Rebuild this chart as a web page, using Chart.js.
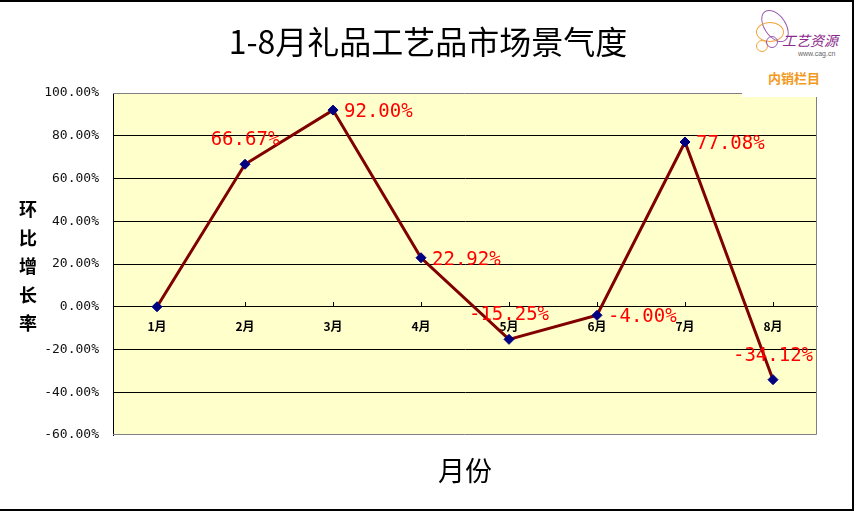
<!DOCTYPE html>
<html>
<head>
  <meta charset="utf-8">
  <title>1-8月礼品工艺品市场景气度</title>
  <script src="https://cdn.jsdelivr.net/npm/chart.js"></script>
  <style>
    body {
      margin: 0;
      background: #fff;
      font-family: "Noto Sans CJK SC", sans-serif;
    }

    .frame {
      position: relative;
      width: 856px;
      height: 511px;
      overflow: hidden;
    }

    .chart-box {
      position: absolute;
      left: 0;
      top: 0;
      width: 856px;
      height: 511px;
    }

    .title {
      position: absolute;
      left: 0;
      width: 856px;
      top: 19px;
      text-align: center;
      font-size: 32px;
      line-height: 42px;
      color: #000;
    }

    .x-title {
      position: absolute;
      left: 415px;
      width: 100px;
      top: 452px;
      text-align: center;
      font-size: 27px;
      line-height: 36px;
    }

    .y-title {
      position: absolute;
      left: 16px;
      top: 194px;
      width: 24px;
      font-size: 18px;
      font-weight: bold;
      line-height: 28.5px;
      text-align: center;
    }

    .logo {
      position: absolute;
      left: 742px;
      top: 2px;
      width: 110px;
      height: 95px;
      background: #fff;
    }

    .logo .name {
      position: absolute;
      left: 40px;
      top: 28px;
      color: #8a2a8a;
      font-size: 14px;
      font-style: italic;
    }

    .logo .url {
      position: absolute;
      left: 56px;
      top: 48px;
      color: #666;
      font-size: 7px;
      font-family: "Liberation Sans", sans-serif;
    }

    .logo .col {
      position: absolute;
      left: 26px;
      top: 66px;
      color: #f29a1c;
      font-size: 13px;
      font-weight: bold;
    }

    .logo .ring {
      position: absolute;
      border-radius: 50%;
    }

    .border {
      position: absolute;
      left: 0;
      top: 0;
      width: 852px;
      height: 507px;
      border-top: 2px solid #000;
      border-right: 2px solid #000;
      border-bottom: 2px solid #000;
      pointer-events: none;
    }
  </style>
</head>
<body>
  <div class="frame">
    <div class="chart-box">
      <canvas id="chart"></canvas>
    </div>
    <div class="title">1-8月礼品工艺品市场景气度</div>
    <div class="y-title">环<br>比<br>增<br>长<br>率</div>
    <div class="x-title">月份</div>
    <div class="logo">
      <div class="ring" style="left:22px;top:6px;width:20px;height:34px;border:1px solid #9a5bb0;transform:rotate(-35deg);"></div>
      <div class="ring" style="left:14px;top:20px;width:26px;height:18px;border:1px solid #f2a640;"></div>
      <div class="ring" style="left:14px;top:38px;width:10px;height:10px;border:1px solid #f2a640;"></div>
      <div class="ring" style="left:24px;top:34px;width:10px;height:10px;border:1px solid #9a5bb0;"></div>
      <div class="name">工艺资源</div>
      <div class="url">www.cag.cn</div>
      <div class="col">内销栏目</div>
    </div>
    <div class="border"></div>
  </div>

  <script>
    var months = ['1月', '2月', '3月', '4月', '5月', '6月', '7月', '8月'];
    var growth = [0, 66.67, 92.00, 22.92, -15.25, -4.00, 77.08, -34.12];
    var yMin = -60;
    var yMax = 100;
    var yStep = 20;

    // where each value label sits relative to its point
    var labelSide = ['none', 'top', 'right', 'right', 'top', 'right', 'right', 'top'];

    var plotBack = {
      id: 'plotBack',
      beforeDraw: function (chart) {
        var a = chart.chartArea;
        var ctx = chart.ctx;
        ctx.save();
        ctx.fillStyle = '#FFFFCC';
        ctx.fillRect(a.left, a.top, a.right - a.left, a.bottom - a.top);
        ctx.restore();
      },
      afterDraw: function (chart) {
        var a = chart.chartArea;
        var ctx = chart.ctx;
        ctx.save();
        ctx.strokeStyle = '#808080';
        ctx.lineWidth = 1;
        ctx.beginPath();
        ctx.moveTo(a.left, a.top + 0.5);
        ctx.lineTo(a.right - 0.5, a.top + 0.5);
        ctx.lineTo(a.right - 0.5, a.bottom - 0.5);
        ctx.lineTo(a.left, a.bottom - 0.5);
        ctx.stroke();
        ctx.restore();
      }
    };

    var valueLabels = {
      id: 'valueLabels',
      afterDatasetsDraw: function (chart) {
        var ctx = chart.ctx;
        var meta = chart.getDatasetMeta(0);
        ctx.save();
        ctx.font = '19px "DejaVu Sans Mono", monospace';
        ctx.fillStyle = '#FF0000';
        ctx.textBaseline = 'middle';
        meta.data.forEach(function (pt, i) {
          var side = labelSide[i];
          if (side === 'none') return;
          var txt = growth[i].toFixed(2) + '%';
          if (side === 'right') {
            ctx.textAlign = 'left';
            ctx.fillText(txt, pt.x + 11, pt.y + 2);
          } else {
            ctx.textAlign = 'center';
            ctx.fillText(txt, pt.x, pt.y - 24);
          }
        });
        ctx.restore();
      }
    };

    var ctx = document.getElementById('chart').getContext('2d');
    var chart = new Chart(ctx, {
      type: 'line',
      data: {
        labels: months,
        datasets: [{
          label: '环比增长率',
          data: growth,
          borderColor: '#800000',
          borderWidth: 3,
          tension: 0,
          fill: false,
          pointStyle: 'rectRot',
          pointRadius: 5,
          pointHoverRadius: 5,
          pointBackgroundColor: '#000080',
          pointBorderColor: '#000080',
          pointBorderWidth: 1
        }]
      },
      options: {
        responsive: true,
        maintainAspectRatio: false,
        animation: false,
        layout: {
          padding: { left: 0, top: 93, right: 39, bottom: 76 }
        },
        plugins: {
          legend: { display: false },
          tooltip: { enabled: false }
        },
        scales: {
          x: {
            type: 'category',
            offset: true,
            position: { y: 0 },
            afterFit: function (scale) { scale.height = 0; },
            grid: {
              drawOnChartArea: false,
              drawTicks: true,
              tickLength: -5,
              color: '#000'
            },
            border: { display: true, color: '#000', width: 1 },
            ticks: {
              color: '#000',
              padding: 17,
              maxRotation: 0,
              font: { family: '"Noto Sans CJK SC", sans-serif', size: 12, weight: 'bold' }
            }
          },
          y: {
            min: yMin,
            max: yMax,
            afterFit: function (scale) { scale.width = 113; },
            grid: {
              drawTicks: false,
              color: function (c) {
                if (c.tick && (c.tick.value === yMax || c.tick.value === yMin)) return 'rgba(0,0,0,0)';
                return '#000';
              },
              lineWidth: 1
            },
            border: { display: true, color: '#000', width: 1 },
            ticks: {
              stepSize: yStep,
              padding: 14,
              color: '#111',
              font: { family: '"DejaVu Sans Mono", monospace', size: 13 },
              callback: function (v) { return v.toFixed(2) + '%'; }
            }
          }
        }
      },
      plugins: [plotBack, valueLabels]
    });
  </script>
</body>
</html>
